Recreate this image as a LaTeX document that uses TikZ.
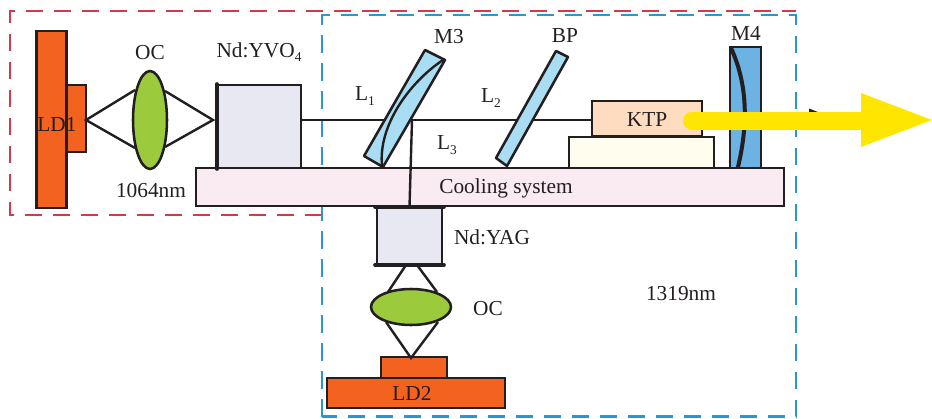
\documentclass[tikz,border=0pt]{standalone}
\usepackage{fontspec}
\setmainfont{Liberation Serif}
\usetikzlibrary{shapes.geometric}
\definecolor{ldor}{HTML}{F4621F}
\definecolor{lensg}{HTML}{9BCB3C}
\definecolor{crys}{HTML}{E8E8F3}
\definecolor{pinkc}{HTML}{FAEBF2}
\definecolor{ktpc}{HTML}{FDDCBF}
\definecolor{creamc}{HTML}{FEFDEE}
\definecolor{mthree}{HTML}{A9DDF3}
\definecolor{mfour}{HTML}{6CB3E3}
\definecolor{redd}{HTML}{CF3A4C}
\definecolor{blued}{HTML}{2B96D6}
\definecolor{yell}{HTML}{FFE600}
\definecolor{ink}{HTML}{231F20}
\newcommand{\ux}{0.75pt}
\newcommand{\lsub}[1]{\raisebox{-0.45ex}{\fontsize{10}{12}\selectfont #1}}
\tikzset{
  x=0.75pt,y=-0.75pt,
  lbl/.style={font=\fontsize{16}{18}\selectfont,text=ink,inner sep=0pt},
  part/.style={draw=ink,line width=1.9pt,inner sep=0pt,outer sep=0pt},
  wire/.style={draw=ink,line width=1.8pt},
  heavy/.style={draw=ink,line width=2.7pt,line cap=round},
  redbox/.style={draw=redd,line width=1.7pt,dash pattern=on 13pt off 8pt},
  bluebox/.style={draw=blued,line width=1.7pt,dash pattern=on 13pt off 8pt},
}
\begin{document}
\begin{tikzpicture}
\useasboundingbox (0,0) rectangle (932,418);
% dashed frames
\draw[redbox] (322,215) -- (10,215) -- (10,11) -- (796,11);
\draw[bluebox] (322,416.5) -- (322,15) -- (796,15) -- (796,416.5) -- cycle;
% LD1
\node[part,fill=ldor,minimum width=30.5*\ux,minimum height=177*\ux] (ldonebig) at (51.5,119.5) {};
\node[part,fill=ldor,minimum width=19*\ux,minimum height=67*\ux] (ldonesmall) at (76.5,118.5) {};
\node[lbl] (ldonet) at (57,124) {LD1};
% OC 1
\node[part,ellipse,fill=lensg,minimum width=34*\ux,minimum height=98*\ux] (ocone) at (150,120) {};
\node[lbl] (oconet) at (150,53) {OC};
\coordinate (pumpa) at (86,120);
\coordinate (ocaup) at (135,90);
\coordinate (ocalo) at (135,148);
\coordinate (ocbup) at (165,91);
\coordinate (ocblo) at (165,147);
\coordinate (pumpb) at (213,120);
\draw[wire] (ocaup) -- (pumpa) -- (ocalo);
\draw[wire] (ocbup) -- (pumpb) -- (ocblo);
\node[lbl] (wlone) at (151,191) {1064nm};
% cooling
\node[part,fill=pinkc,minimum width=588*\ux,minimum height=38*\ux] (cool) at (490,187) {};
\node[lbl] (coolt) at (506,188.5) {Cooling system};
% Nd:YVO4
\node[part,fill=crys,minimum width=84*\ux,minimum height=83*\ux] (yvo) at (259,126.5) {};
\draw[heavy] ([yshift=0.75pt]yvo.north west) -- ([yshift=-0.75pt]yvo.south west);
\node[lbl] (yvot) at (259,52) {Nd:YVO\lsub{4}};
% main beam and branch
\coordinate (branch) at (412,120);
\node[part,fill=ktpc,minimum width=110*\ux,minimum height=35*\ux] (ktp) at (647,118.5) {};
\draw[wire] (yvo.east |- branch) -- (ktp.west |- branch);
\node[part,fill=crys,minimum width=65*\ux,minimum height=58*\ux] (yag) at (409.5,236) {};
\draw[wire] (branch) -- (yag.north);
% M3
\draw[part,fill=mthree,line join=round] (425,50) -- (445,60) -- (383,167) -- (364,156) -- cycle;
\draw[wire] (443,60) .. controls (410,82) and (378,125) .. (382,166);
\node[lbl] (mthreet) at (449,37) {M3};
% BP
\draw[part,fill=mthree,line join=round] (556,51) -- (568,57) -- (507,166) -- (496,158) -- cycle;
\node[lbl] (bpt) at (565,36) {BP};
\node[lbl] (lone) at (365,96) {L\lsub{1}};
\node[lbl] (ltwo) at (491,98) {L\lsub{2}};
\node[lbl] (lthree) at (447,145) {L\lsub{3}};
% KTP mount
\node[part,fill=creamc,minimum width=145*\ux,minimum height=31*\ux] (mount) at (641.5,152.5) {};
\node[lbl] (ktpt) at (647,120) {KTP};
% M4
\node[part,fill=mfour,minimum width=31*\ux,minimum height=121*\ux] (mf) at (745.5,107.5) {};
\draw[draw=ink,line width=3pt,line cap=round] (731,48) .. controls (748,85) and (748,125) .. (738,167);
\node[lbl] (mft) at (746,33) {M4};
% output beam
\fill[ink] (809,108.5) -- (819,112.5) -- (809,112.5) -- cycle;
\coordinate (beamstart) at (692,120.5);
\coordinate (beamneck) at (862,120.5);
\coordinate (beamtip) at (932,120);
\draw[yell,line width=13.5pt,line cap=round] (beamstart) -- (beamneck);
\fill[yell] (861,93) -- (beamtip) -- (861,147) -- cycle;
% Nd:YAG caps
\draw[heavy] ([xshift=-1.5pt]yag.north west) -- ([xshift=1.5pt]yag.north east);
\draw[heavy] ([xshift=-1.5pt]yag.south west) -- ([xshift=1.5pt]yag.south east);
\node[lbl] (yagt) at (492,237) {Nd:YAG};
% lower OC
\node[part,ellipse,fill=lensg,minimum width=80*\ux,minimum height=36*\ux] (octwo) at (411,307) {};
\node[lbl] (octwot) at (488,309) {OC};
\coordinate (yagl) at (406,265);
\coordinate (yagr) at (417,265);
\coordinate (ocl) at (388,292);
\coordinate (ocr) at (437,292);
\coordinate (ocll) at (386,322);
\coordinate (ocrl) at (438,322);
\coordinate (pumpc) at (411,358);
\draw[wire] (yagl) -- (ocl);
\draw[wire] (yagr) -- (ocr);
% LD2
\node[part,fill=ldor,minimum width=66*\ux,minimum height=22*\ux] (ldtwosmall) at (414,368) {};
\node[part,fill=ldor,minimum width=178*\ux,minimum height=30*\ux] (ldtwobig) at (416,393) {};
\draw[wire] (ocll) -- (pumpc) -- (ocrl);
\node[lbl] (ldtwot) at (412,393) {LD2};
\node[lbl] (wltwo) at (681,294) {1319nm};
\end{tikzpicture}
\end{document}
